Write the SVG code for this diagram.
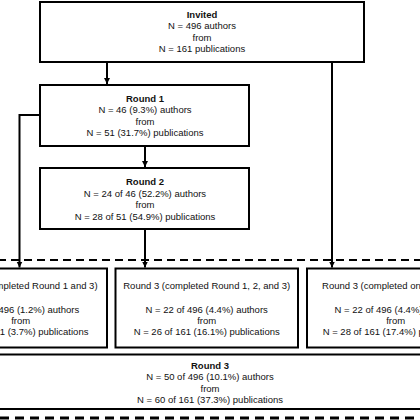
<svg xmlns="http://www.w3.org/2000/svg" width="420" height="420" viewBox="0 0 420 420">
<style>
.box{fill:#fff;stroke:#000;stroke-width:2}
.t{font-family:"Liberation Sans",Arial,sans-serif;font-size:9.5px;fill:#111;text-anchor:middle}
.b{font-weight:bold}
.c{fill:none;stroke:#000;stroke-width:2}
.d{fill:none;stroke:#000;stroke-width:2;stroke-dasharray:8 5}
.d2{fill:none;stroke:#000;stroke-width:3;stroke-dasharray:9 6}
</style>
<defs>
<marker id="ah" markerUnits="userSpaceOnUse" markerWidth="7" markerHeight="7" refX="6" refY="3" orient="auto">
<path d="M0,0 L6,3 L0,6 z" fill="#000"/>
</marker>
</defs>
<rect width="420" height="420" fill="#fff"/>
<g id="connectors">
<line class="c" x1="107" y1="62" x2="107" y2="84" marker-end="url(#ah)"/>
<line class="c" x1="332" y1="62" x2="332" y2="267.5" marker-end="url(#ah)"/>
<path class="c" d="M40,115 H19.5 V267.5" marker-end="url(#ah)"/>
<line class="c" x1="145" y1="146" x2="145" y2="167" marker-end="url(#ah)"/>
<line class="c" x1="145" y1="229" x2="145" y2="267.5" marker-end="url(#ah)"/>
<line class="d" x1="-2" y1="260" x2="422" y2="260"/>
<line class="d2" x1="0" y1="418" x2="422" y2="418"/>
</g>
<g id="invited">
<rect class="box" x="40" y="2" width="324" height="60"/>
<text class="t b" x="202" y="18">Invited</text>
<text class="t" x="202" y="29.3">N = 496 authors</text>
<text class="t" x="202" y="40.7">from</text>
<text class="t" x="202" y="52">N = 161 publications</text>
</g>
<g id="round1">
<rect class="box" x="40" y="85" width="209" height="61"/>
<text class="t b" x="145" y="101.8">Round 1</text>
<text class="t" x="145" y="113.2">N = 46 (9.3%) authors</text>
<text class="t" x="145" y="124.6">from</text>
<text class="t" x="145" y="136">N = 51 (31.7%) publications</text>
</g>
<g id="round2">
<rect class="box" x="40" y="168" width="209" height="61"/>
<text class="t b" x="145" y="185.2">Round 2</text>
<text class="t" x="145" y="196.6">N = 24 of 46 (52.2%) authors</text>
<text class="t" x="145" y="208">from</text>
<text class="t" x="145" y="219.6">N = 28 of 51 (54.9%) publications</text>
</g>
<g id="round3a">
<rect class="box" x="-70" y="268.5" width="177" height="79"/>
<text class="t" x="20.7" y="289.2">Round 3 (completed Round 1 and 3)</text>
<text class="t" x="20.7" y="312.5">N = 6 of 496 (1.2%) authors</text>
<text class="t" x="20.7" y="323.9">from</text>
<text class="t" x="20.7" y="335.2">N = 6 of 161 (3.7%) publications</text>
</g>
<g id="round3b">
<rect class="box" x="115.5" y="268.5" width="182.5" height="79"/>
<text class="t" x="206.7" y="289.2">Round 3 (completed Round 1, 2, and 3)</text>
<text class="t" x="206.7" y="312.5">N = 22 of 496 (4.4%) authors</text>
<text class="t" x="206.7" y="323.9">from</text>
<text class="t" x="206.7" y="335.2">N = 26 of 161 (16.1%) publications</text>
</g>
<g id="round3c">
<rect class="box" x="307" y="268.5" width="180" height="79"/>
<text class="t" x="395.7" y="289.2">Round 3 (completed only Round 3)</text>
<text class="t" x="395.7" y="312.5">N = 22 of 496 (4.4%) authors</text>
<text class="t" x="395.7" y="323.9">from</text>
<text class="t" x="395.7" y="335.2">N = 28 of 161 (17.4%) publications</text>
</g>
<g id="round3total">
<rect class="box" x="-5" y="354.5" width="430" height="54.5"/>
<text class="t b" x="210" y="368.5">Round 3</text>
<text class="t" x="210" y="380">N = 50 of 496 (10.1%) authors</text>
<text class="t" x="210" y="391.5">from</text>
<text class="t" x="210" y="402.8">N = 60 of 161 (37.3%) publications</text>
</g>
</svg>
